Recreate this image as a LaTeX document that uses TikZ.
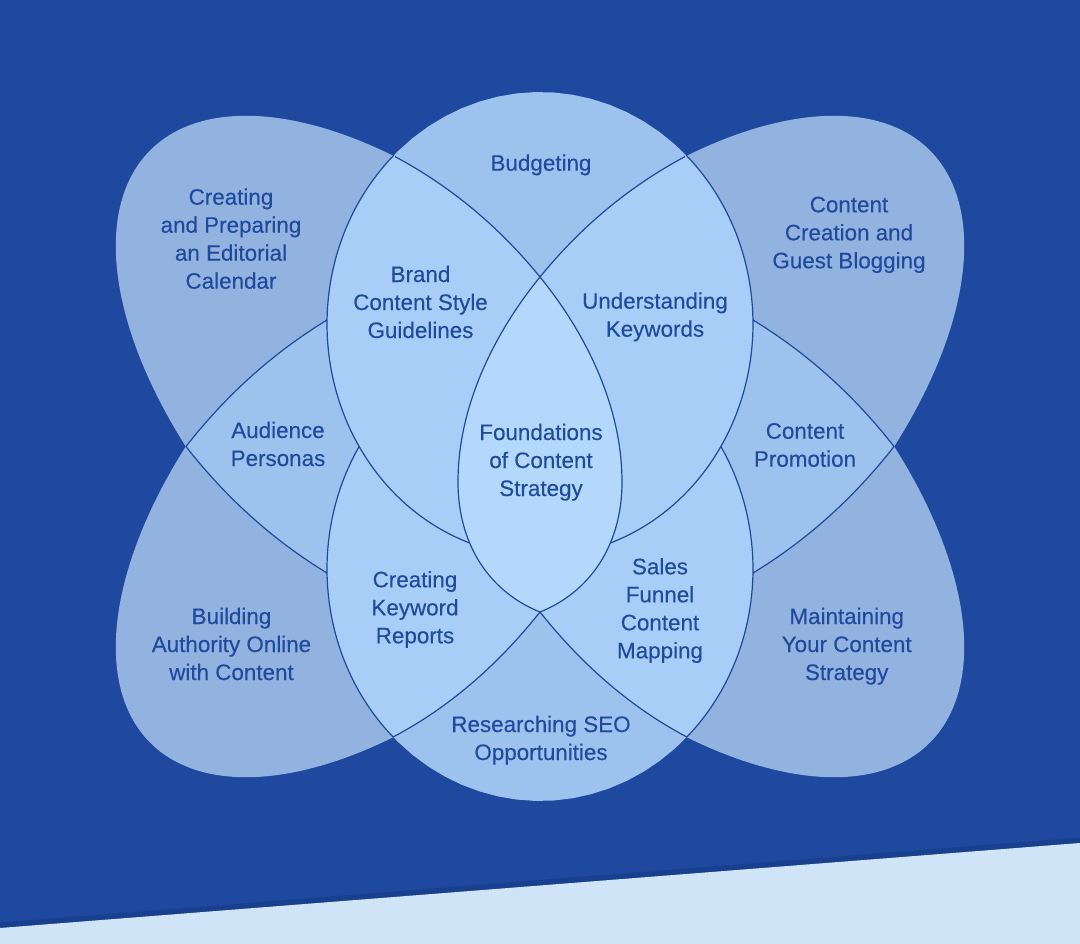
\documentclass[tikz,border=0pt]{standalone}
\usepackage{fontspec}
\setmainfont{Liberation Sans}
\newfontface\lblface{Liberation Sans}[FakeBold=0.25]
\definecolor{bgdark}{HTML}{1E499E}
\definecolor{band}{HTML}{CFE4F7}
\definecolor{stripe}{HTML}{18408F}
\definecolor{lobec}{HTML}{92B2DF}
\definecolor{circc}{HTML}{9DC2EE}
\definecolor{pairc}{HTML}{A8CEF7}
\definecolor{lensc}{HTML}{B3D8FC}
\definecolor{txt}{HTML}{204A9B}
\definecolor{linec}{HTML}{1F4A9B}
% top / bottom ellipse arcs and corner lobe arcs (pixel coordinates, y down)
% first argument: empty (start of path) or -- (continue path)
\newcommand\myTarc[3]{#1 plot[domain=0:1,samples=72,variable=\x]({540+213*cos(#2+((#3)-(#2))*\x)},{324+232*sin(#2+((#3)-(#2))*\x)})}
\newcommand\myBarc[3]{#1 plot[domain=0:1,samples=72,variable=\x]({540+213*cos(#2+((#3)-(#2))*\x)},{569+232*sin(#2+((#3)-(#2))*\x)})}
\newcommand\myLobe[4]{plot[domain=0:1,samples=80,variable=\x]({540+(#1)*(114-(390*cos(#3+((#4)-(#3))*\x)+201*sin(#3+((#4)-(#3))*\x))/1.41421)},{446.5+(#2)*(20.5-(390*cos(#3+((#4)-(#3))*\x)-201*sin(#3+((#4)-(#3))*\x))/1.41421)})}
\begin{document}
\begin{tikzpicture}[x=1pt,y=-1pt,
  lobe/.style={fill=lobec},
  circ/.style={fill=circc},
  pair/.style={fill=pairc},
  lens/.style={fill=lensc,draw=linec,line width=1.2pt},
  edge/.style={draw=linec,line width=1.2pt},
  lbl/.style={font=\lblface\fontsize{22.4}{28}\selectfont,text=txt,align=center,inner sep=0pt,anchor=base}]
\path[use as bounding box] (0,0) rectangle (1080,944);
% background
\fill[bgdark] (0,0) rectangle (1080,944);
\fill[stripe] (0,922.5) -- (1080,837.5) -- (1080,843) -- (0,928) -- cycle;
\fill[band] (0,928) -- (1080,843) -- (1080,944) -- (0,944) -- cycle;
% key points
\coordinate (A1) at (395,156.6);
\coordinate (A2) at (685,156.6);
\coordinate (A1b) at (393.1,737);
\coordinate (A2b) at (686.9,737);
\coordinate (NL) at (186,446.5);
\coordinate (NR) at (894,446.5);
\coordinate (J1) at (327,320);
\coordinate (J2) at (327,573);
\coordinate (J1r) at (753,320);
\coordinate (J2r) at (753,573);
\coordinate (LT) at (540,277);
\coordinate (LB) at (540,612);
\coordinate (CC) at (540,446.5);
% corner lobes
\fill[lobe] \myLobe{-1}{-1}{123}{246.6} -- (CC) -- cycle;
\fill[lobe] \myLobe{1}{-1}{123}{246.6} -- (CC) -- cycle;
\fill[lobe] \myLobe{-1}{1}{123}{246.6} -- (CC) -- cycle;
\fill[lobe] \myLobe{1}{1}{123}{246.6} -- (CC) -- cycle;
% top and bottom ovals
\fill[circ] \myTarc{}{0}{360} -- cycle;
\fill[circ] \myBarc{}{0}{360} -- cycle;
% side overlaps
\fill[circ] (NL) .. controls (225.6,395.8) and (272.2,353.4) .. (J1) -- (420,446.5) -- (J2) .. controls (272.2,539.6) and (225.6,497.2) .. (NL) -- cycle;
\fill[circ] (NR) .. controls (854.4,395.8) and (807.8,353.4) .. (J1r) -- (660,446.5) -- (J2r) .. controls (807.8,539.6) and (854.4,497.2) .. (NR) -- cycle;
% inner overlaps
\fill[pair] (A1) .. controls (451,186.5) and (499.4,227.1) .. (LT) -- (LB) .. controls (499.4,663) and (451,706.5) .. (A1b) \myBarc{--}{133.6}{211.87} \myTarc{--}{148.13}{226.7} -- cycle;
\fill[pair] (A2) .. controls (629,186.5) and (580.6,227.1) .. (LT) -- (LB) .. controls (580.6,663) and (629,706.5) .. (A2b) \myBarc{--}{46.4}{-31.87} \myTarc{--}{31.87}{-46.7} -- cycle;
% dividing lines
\draw[edge] \myTarc{}{226.7}{107};
\draw[edge] \myTarc{}{-46.7}{73};
\draw[edge] \myBarc{}{133.6}{211.87};
\draw[edge] \myBarc{}{46.4}{-31.87};
\draw[edge] (A1) .. controls (451,186.5) and (499.4,227.1) .. (LT);
\draw[edge] (A2) .. controls (629,186.5) and (580.6,227.1) .. (LT);
\draw[edge] (A1b) .. controls (451,706.5) and (499.4,663) .. (LB);
\draw[edge] (A2b) .. controls (629,706.5) and (580.6,663) .. (LB);
\draw[edge] (NL) .. controls (225.6,395.8) and (272.2,353.4) .. (J1);
\draw[edge] (NL) .. controls (225.6,497.2) and (272.2,539.6) .. (J2);
\draw[edge] (NR) .. controls (854.4,395.8) and (807.8,353.4) .. (J1r);
\draw[edge] (NR) .. controls (854.4,497.2) and (807.8,539.6) .. (J2r);
% central lens
\draw[lens] (LT) .. controls (500,326) and (458,400) .. (458,482) .. controls (458,545) and (490,592) .. (LB) .. controls (590,592) and (622,545) .. (622,482) .. controls (622,400) and (580,326) .. (LT) -- cycle;
% labels (anchor = baseline of the last line)
\node[lbl] (budg) at (541,170.7) {Budgeting};
\node[lbl] (cal) at (231,288.7) {Creating\\and Preparing\\an Editorial\\Calendar};
\node[lbl] (brand) at (420.5,338) {Brand\\Content Style\\Guidelines};
\node[lbl] (keyw) at (655,336.7) {Understanding\\Keywords};
\node[lbl] (guest) at (849,268.3) {Content\\Creation and\\Guest Blogging};
\node[lbl] (aud) at (278,466) {Audience\\Personas};
\node[lbl] (found) at (541,496) {Foundations\\of Content\\Strategy};
\node[lbl] (promo) at (805,466.7) {Content\\Promotion};
\node[lbl] (kwrep) at (415,643.3) {Creating\\Keyword\\Reports};
\node[lbl] (sales) at (660,658.3) {Sales\\Funnel\\Content\\Mapping};
\node[lbl] (auth) at (231.5,680) {Building\\Authority Online\\with Content};
\node[lbl] (maint) at (846.7,680) {Maintaining\\Your Content\\Strategy};
\node[lbl] (seo) at (541,760) {Researching SEO\\Opportunities};
\end{tikzpicture}
\end{document}
